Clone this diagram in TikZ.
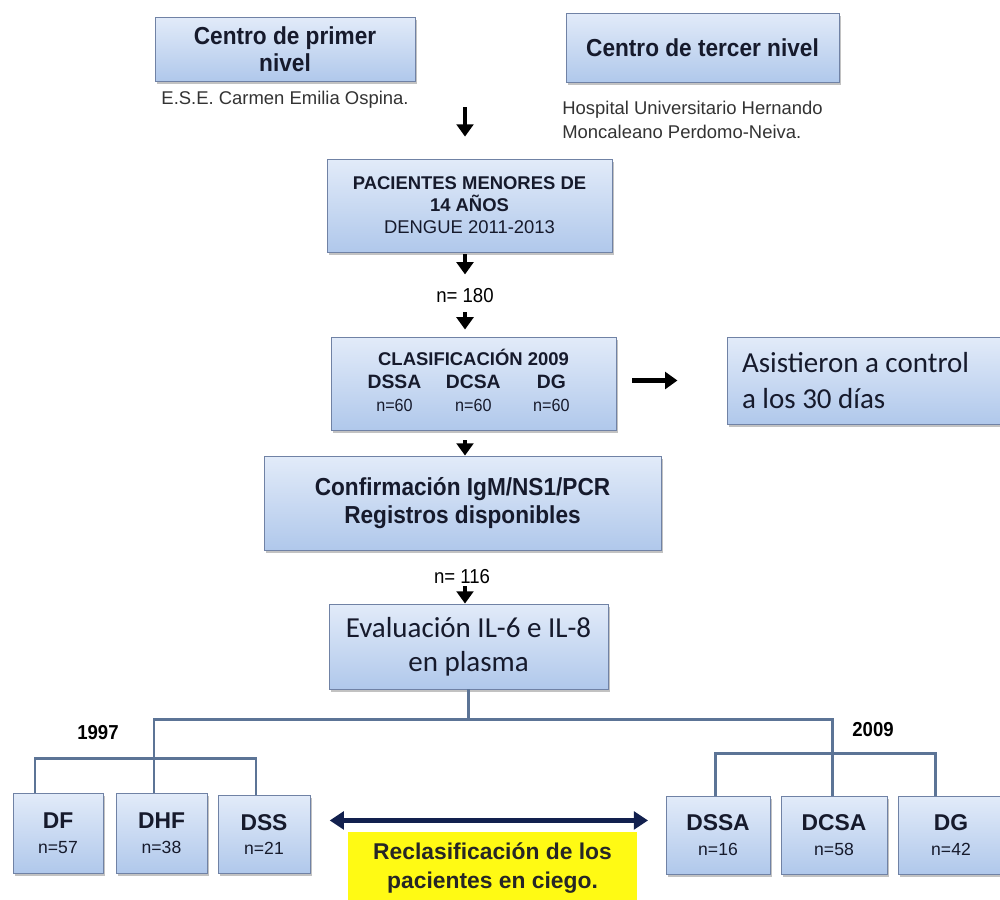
\documentclass[tikz,border=0pt]{standalone}
\usepackage{fontspec}
\setmainfont{Liberation Sans}
\newfontfamily\narrowfont[FakeStretch=0.92]{Liberation Sans}
\newfontfamily\califont{Carlito}
\usetikzlibrary{arrows.meta,shadows}

\definecolor{boxtop}{RGB}{226,235,249}
\definecolor{boxbot}{RGB}{176,200,235}
\definecolor{boxline}{RGB}{112,130,165}
\definecolor{branchline}{RGB}{92,116,150}
\definecolor{ink}{RGB}{22,26,44}
\definecolor{navy}{RGB}{18,32,78}
\definecolor{marker}{RGB}{255,250,20}

\newcommand{\grp}[2]{#1\\{\mdseries\fontsize{10}{12}\selectfont n=#2}}
\newcommand{\nsm}[1]{{\mdseries\narrowfont\fontsize{10}{12}\selectfont #1}}

\begin{document}
\begin{tikzpicture}[x=0.02cm,y=-0.02cm,
		box/.style={draw=boxline, line width=0.5pt, top color=boxtop, bottom color=boxbot,
			drop shadow={shadow xshift=1.2pt, shadow yshift=-1.6pt, opacity=0.4, fill=black!60},
			align=center, text=ink, inner sep=0pt},
		head/.style={font=\narrowfont\bfseries\fontsize{14}{15.5}\selectfont},
		calib/.style={font=\califont\fontsize{16.5}{21}\selectfont},
		note/.style={font=\fontsize{10.5}{13.7}\selectfont, text=black!80, inner sep=0pt},
		ntext/.style={font=\narrowfont\fontsize{11.5}{13}\selectfont, inner sep=0pt},
		yearlbl/.style={font=\narrowfont\bfseries\fontsize{11.5}{13}\selectfont, inner sep=0pt},
		grpbox/.style={box, font=\bfseries\fontsize{13}{14.2}\selectfont},
		arr/.style={-{Triangle[length=7pt,width=9.5pt]}, line width=2.3pt},
		dbl/.style={{Triangle[length=8pt,width=10pt]}-{Triangle[length=8pt,width=10pt]}, line width=2.6pt, draw=navy},
		branch/.style={draw=branchline, line width=1.7pt}]

	\useasboundingbox (0,0) rectangle (1000,899);

	% centros
	\node[box, head, minimum width=5.2cm, minimum height=1.28cm] (prim) at (285,49) {Centro de primer\\nivel};
	\node[note] (ese) at (285,100) {E.S.E. Carmen Emilia Ospina.};
	\node[box, head, minimum width=5.46cm, minimum height=1.38cm] (terc) at (702.5,47.5) {Centro de tercer nivel};
	\node[note, anchor=west, align=left] (hosp) at (562,120) {Hospital Universitario Hernando\\Moncaleano Perdomo-Neiva.};

	% flujo
	\coordinate (axis) at (465,107);
	\node[box, font=\bfseries\fontsize{10.5}{12.5}\selectfont, minimum width=5.7cm, minimum height=1.86cm] (pac) at (469.5,205.5)
		{PACIENTES MENORES DE\\14 AÑOS\\{\mdseries DENGUE 2011-2013}};
	\node[ntext] (n180) at (465,296) {n= 180};
	\node[box, minimum width=5.7cm, minimum height=1.86cm] (clas) at (473.5,383.5) {%
		\fontsize{11}{13}\selectfont\bfseries
		\begin{tabular}{@{}c@{\hspace{14pt}}c@{\hspace{13pt}}c@{}}
			\multicolumn{3}{c}{\fontsize{10.5}{13}\selectfont CLASIFICACIÓN 2009}\\
			DSSA & DCSA & DG\\
			\nsm{n=60} & \nsm{n=60} & \nsm{n=60}
		\end{tabular}};
	\node[box, calib, align=flush left, text width=140pt, inner xsep=8.5pt, minimum height=1.74cm] (asis) at (865,380.5)
		{Asistieron a control\\a los 30 días};
	\node[box, head, font=\narrowfont\bfseries\fontsize{14}{16}\selectfont, minimum width=7.94cm, minimum height=1.88cm] (conf) at (462.5,503)
		{Confirmación IgM/NS1/PCR\\Registros disponibles};
	\node[ntext] (n116) at (462,577) {n= 116};
	\node[box, calib, font=\califont\fontsize{16.5}{19.5}\selectfont, minimum width=5.58cm, minimum height=1.7cm] (eval) at (468.5,646.5)
		{Evaluación IL-6 e IL-8\\en plasma};

	\draw[arr, shorten >=12.5pt] (axis) -- (axis |- pac.north);
	\draw[arr, shorten <=1pt, shorten >=8pt] (pac.south -| n180) -- (n180.north);
	\draw[arr, shorten <=5pt, shorten >=4pt] (n180.south) -- (clas.north -| n180);
	\draw[arr, shorten <=9pt, shorten >=28pt] (clas.east |- asis.west) -- (asis.west);
	\draw[arr, shorten <=5.7pt] (clas.south -| axis) -- (conf.north -| axis);
	\draw[arr, shorten <=1pt] (n116.south -| axis) -- (eval.north -| axis);

	% grupos
	\node[grpbox, minimum width=1.8cm, minimum height=1.6cm] (df) at (58,833) {\grp{DF}{57}};
	\node[grpbox, minimum width=1.82cm, minimum height=1.6cm] (dhf) at (161.5,833) {\grp{DHF}{38}};
	\node[grpbox, minimum width=1.84cm, minimum height=1.56cm] (dss) at (264,834.5) {\grp{DSS}{21}};
	\node[grpbox, minimum width=2.08cm, minimum height=1.56cm] (dssa) at (718,835) {\grp{DSSA}{16}};
	\node[grpbox, minimum width=2.12cm, minimum height=1.56cm] (dcsa) at (834,835) {\grp{DCSA}{58}};
	\node[grpbox, minimum width=2.12cm, minimum height=1.56cm] (dg) at (951,835) {\grp{DG}{42}};

	\node[yearlbl] (y97) at (98,733) {1997};
	\node[yearlbl] (y09) at (873,730) {2009};

	% ramas
	\coordinate (l97) at (154,719);
	\coordinate (r09) at (832,719);
	\coordinate (lbar) at (154,758);
	\coordinate (rbar) at (832,753);
	\coordinate (ldf) at (35,758);
	\coordinate (ldss) at (256,758);
	\coordinate (rdssa) at (715,753);
	\coordinate (rdg) at (935,753);

	\draw[branch] (eval.south) -- (eval.south |- l97);
	\draw[branch] (lbar |- dhf.north) -- (lbar) -- (l97) -- (r09) -- (rbar) -- (rbar |- dcsa.north);
	\draw[branch] (ldf |- df.north) -- (ldf) -- (ldss) -- (ldss |- dss.north);
	\draw[branch] (rdssa |- dssa.north) -- (rdssa) -- (rdg) -- (rdg |- dg.north);

	% reclasificacion
	\draw[dbl, shorten <=11pt, shorten >=10pt] ([yshift=8pt]dss.east) -- ([yshift=8pt]dss.east -| dssa.west);
	\node[fill=marker, anchor=north, minimum width=5.78cm, inner xsep=0pt, inner ysep=6pt, text depth=26pt,
		align=center, font=\bfseries\fontsize{13}{16.5}\selectfont, text=black!85] (recl) at (492.5,832)
		{Reclasificación de los\\pacientes en ciego.};

\end{tikzpicture}
\end{document}
